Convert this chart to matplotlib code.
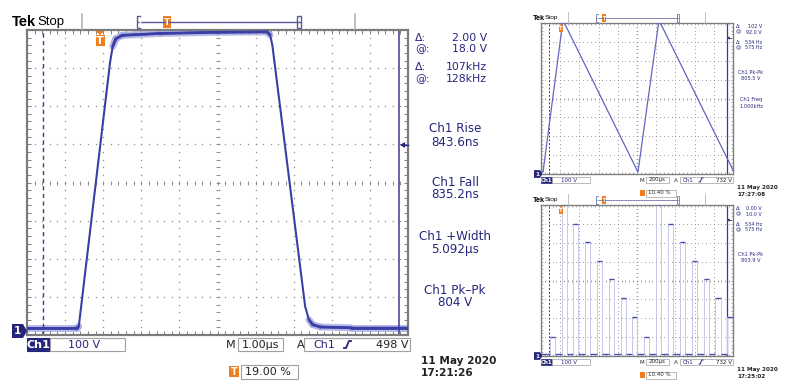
import numpy as np
import matplotlib
matplotlib.use("Agg")
import matplotlib.pyplot as plt
from matplotlib.patches import Rectangle, Polygon

W, H = 800, 387
NAVY = '#25257c'
TRACE = '#3a3ea6'
HALO = '#a6a9e0'
GRID = '#8e8e8e'
FRAME = '#7c7c7c'
ORANGE = '#f07d1e'
DARK = '#222222'
FONT = 'DejaVu Sans'

# main capture: Ch1, 1.00 us/div, 100 V/div
main_t = [0.0, 1.30, 1.36, 2.18, 2.25, 2.33, 2.50, 3.5, 5.0, 6.30, 6.38, 6.44, 7.30, 7.40, 7.50, 7.70, 8.5, 10.0]
main_v = [3, 3, 8, 700, 742, 762, 771, 776, 779, 780, 772, 745, 60, 25, 12, 6, 4, 4]
main_cursors = [0.42, 9.76]
main_readout = [("Δ:", "2.00 V"), ("@:", "18.0 V"), ("Δ:", "107kHz"), ("@:", "128kHz")]
main_meas = [("Ch1 Rise", "843.6ns"), ("Ch1 Fall", "835.2ns"),
             ("Ch1 +Width", "5.092µs"), ("Ch1 Pk–Pk", "804 V")]

# ramp capture: 200 us/div
saw_t = [0, 21, 229, 1010, 1229, 2010]
saw_v = [0, 0, 805, 0, 805, 0]
saw_readout = [("Δ:", "102 V"), ("@:", "92.0 V"), ("Δ:", "534 Hz"), ("@:", "575 Hz")]
saw_meas = [("Ch1 Pk-Pk", "805.5 V"), ("Ch1 Freq", "1.000kHz")]

# staircase pulse capture: 200 us/div
step_t = [95, 215, 335, 458, 580, 705, 830, 950, 1070, 1195, 1320, 1445, 1570, 1695, 1815, 1940]
step_v = [90, 795, 690, 595, 495, 400, 295, 195, 90, 795, 690, 595, 495, 400, 295, 195]
step_w = 55
step_readout = [("Δ:", "0.00 V"), ("@:", "10.0 V"), ("Δ:", "534 Hz"), ("@:", "575 Hz")]
step_meas = [("Ch1 Pk-Pk", "803.9 V")]
small_cursors = [83, 1937]


def rect(x0, y0, x1, y1):
    return [x0 / W, 1 - y1 / H, (x1 - x0) / W, (y1 - y0) / H]


def graticule(ax, s):
    x0, x1 = ax.get_xlim()
    y0, y1 = ax.get_ylim()
    ax.set_xticks(np.linspace(x0, x1, 51))
    ax.set_yticks(np.linspace(y0, y1, 41))
    ax.tick_params(direction='in', length=2.6 * s, width=0.7 * s, color=FRAME,
                   top=True, right=True, labelbottom=False, labelleft=False)
    ax.set_xlim(x0, x1)
    ax.set_ylim(y0, y1)
    for sp in ax.spines.values():
        sp.set_color(FRAME)
        sp.set_linewidth(1.6 * s)
    tr = ax.transAxes
    fx = np.linspace(0, 1, 51)
    fy = np.linspace(0, 1, 41)
    for i in range(1, 10):
        ax.plot(np.full(41, i / 10), fy, ls='none', marker='s', ms=0.9 * s, mew=0,
                color=GRID, transform=tr, zorder=1)
    for j in range(1, 8):
        ax.plot(fx, np.full(51, j / 8), ls='none', marker='s', ms=0.9 * s, mew=0,
                color=GRID, transform=tr, zorder=1)
    ax.plot(np.full(41, 0.5), fy, ls='none', marker='_', ms=3 * s, mew=0.7 * s,
            color=GRID, transform=tr, zorder=1)
    ax.plot(fx, np.full(51, 0.5), ls='none', marker='|', ms=3 * s, mew=0.7 * s,
            color=GRID, transform=tr, zorder=1)


fig = plt.figure(figsize=(8, 3.87), dpi=100)
fig.patch.set_facecolor('white')

ov = fig.add_axes([0, 0, 1, 1])
ov.set_xlim(0, W)
ov.set_ylim(H, 0)
ov.axis('off')
ov.set_zorder(5)


def txt(x, y, s, size, color=NAVY, ha='left', weight='normal', family=FONT):
    ov.text(x, y, s, fontsize=size, color=color, ha=ha, va='center',
            fontweight=weight, family=family)


def box(x0, y0, x1, y1, fc='white', ec='#a0a0a0', lw=0.8):
    ov.add_patch(Rectangle((x0, y0), x1 - x0, y1 - y0, fc=fc, ec=ec, lw=lw))


def ramp(x, y, h, lw, color=NAVY):
    ov.plot([x, x + h * 0.3, x + h * 0.7, x + h], [y + h / 2, y + h / 2, y - h / 2, y - h / 2],
            color=color, lw=lw)


def header(x_tek, x_stop, y, fs, seps, bar0, bar1, tpos, sy0, sy1, s):
    txt(x_tek, y, "Tek", fs, color='black', weight='bold', family='Liberation Sans')
    txt(x_stop, y, "Stop", fs * 0.9, color='black', family='Liberation Sans')
    for sx in seps:
        ov.plot([sx, sx], [sy0, sy1], color='#b4b4b4', lw=1.2 * s)
    h = (sy1 - sy0) * 0.38
    ov.plot([bar0 + 6 * s, bar1], [y, y], color='#5a5a9a', lw=1.0 * s)
    ov.plot([bar0, bar0 + 6 * s], [y, y], color='#5a5a9a', lw=1.0 * s, ls=(0, (1.5, 1.2)))
    ov.plot([bar0 + 3 * s, bar0, bar0, bar0 + 3 * s], [y - h, y - h, y + h, y + h],
            color='#5a5a9a', lw=1.0 * s)
    box(bar1 - 3 * s, y - h, bar1 + 1 * s, y + h, fc='white', ec='#5a5a9a', lw=1.0 * s)
    ov.add_patch(Rectangle((tpos - 4 * s, y - h * 1.05), 8 * s, 2.1 * h, fc=ORANGE, ec='none'))
    txt(tpos, y + 0.3 * s, "T", 6.5 * s, color='white', ha='center', weight='bold')


def trig_marker(x, ytop, s):
    ov.add_patch(Polygon([(x - 4.5 * s, ytop), (x + 4.5 * s, ytop), (x, ytop + 4 * s)],
                         fc=ORANGE, ec='none'))
    ov.add_patch(Rectangle((x - 4.5 * s, ytop + 4 * s), 9 * s, 11 * s, fc=ORANGE, ec='none'))
    txt(x, ytop + 9.8 * s, "T", 8 * s, color='white', ha='center', weight='bold')


def ground_marker(x0, y, s):
    ov.add_patch(Polygon([(x0, y - 7 * s), (x0 + 11 * s, y - 7 * s), (x0 + 15 * s, y),
                          (x0 + 11 * s, y + 7 * s), (x0, y + 7 * s)], fc=NAVY, ec='none'))
    txt(x0 + 5.5 * s, y + 0.3 * s, "1", 7.5 * s, color='white', ha='center', weight='bold')


def level_arrow(x, y, s):
    ov.add_patch(Polygon([(x, y), (x + 5 * s, y - 3 * s), (x + 5 * s, y + 3 * s)],
                         fc=NAVY, ec='none'))
    ov.plot([x + 4 * s, x + 8 * s], [y, y], color=NAVY, lw=1.0 * s)


def draw_trace(ax, t, v, lw_core, lw_halo):
    t = np.asarray(t, float)
    v = np.asarray(v, float)
    ax.plot(t, v, color=TRACE, lw=lw_core * 0.75, zorder=3)
    slope = np.abs(np.diff(v) / np.diff(t))
    for k in np.where(slope < 300)[0]:
        ax.plot(t[k:k + 2], v[k:k + 2], color=HALO, lw=lw_halo, alpha=0.8,
                solid_capstyle='round', zorder=2)
        ax.plot(t[k:k + 2], v[k:k + 2], color=TRACE, lw=lw_core, solid_capstyle='round', zorder=3)


# ---------------- main capture ----------------
ax = fig.add_axes(rect(27, 30, 408, 335))
ax.set_xlim(0, 10)
ax.set_ylim(-15, 785)
graticule(ax, 1.0)
draw_trace(ax, main_t, main_v, 2.0, 5.0)
ax.axvline(main_cursors[0], color='#3a3c8c', lw=1.0, ls=(0, (3, 2.5)), zorder=2)
ax.axvline(main_cursors[1], color='#3a3c8c', lw=1.1, zorder=2)

header(12, 37, 22, 10.5, [82, 355], 137, 300, 167, 14, 29, 1.0)
trig_marker(100, 31, 1.0)
ground_marker(12, 331, 1.0)
level_arrow(400, 145, 1.0)

for (lab, val), y in zip(main_readout, [38, 49.5, 67, 79]):
    txt(415, y, lab, 7.8)
    txt(487, y, val, 7.8, ha='right')
for (lab, val), (y1, y2) in zip(main_meas, [(129, 142), (183, 195), (237, 249), (291, 303)]):
    txt(455, y1, lab, 8.6, ha='center')
    txt(455, y2, val, 8.6, ha='center')

box(27, 338, 50, 351, fc=NAVY, ec=NAVY)
txt(38.5, 344.5, "Ch1", 8, color='white', ha='center', weight='bold')
box(50, 338, 125, 351)
txt(68, 344.5, "100 V", 8)
txt(231, 344.5, "M", 8, color=DARK, ha='center')
box(238, 338, 283, 351)
txt(260.5, 344.5, "1.00µs", 8, color=DARK, ha='center')
txt(301, 344.5, "A", 8, color=DARK, ha='center')
box(304, 338, 410, 351)
txt(313, 344.5, "Ch1", 8)
ramp(344, 344.5, 7, 1.3)
txt(408, 344.5, "498 V", 8, color=DARK, ha='right')

ov.add_patch(Rectangle((229, 366), 10, 11, fc=ORANGE, ec='none'))
txt(234, 371.8, "T", 7, color='white', ha='center', weight='bold')
box(241, 365, 298, 379)
txt(245, 372, "19.00 %", 8, color=DARK)
txt(421, 361, "11 May 2020", 7.6, color=DARK, weight='bold')
txt(421, 373, "17:21:26", 7.6, color=DARK, weight='bold')


# ---------------- small captures ----------------
def small_scope(dy, readout, meas, meas_ys, date, clock):
    a = fig.add_axes(rect(541, 23 + dy, 733, 174 + dy))
    a.set_xlim(0, 2000)
    a.set_ylim(-10, 790)
    graticule(a, 0.6)
    a.axvline(small_cursors[0], color='#3a3c8c', lw=0.7, ls=(0, (2, 1.8)), zorder=2)
    a.axvline(small_cursors[1], color='#3a3c8c', lw=0.9, zorder=2)

    header(533, 545, 18 + dy, 5.2, [568, 705], 596, 678, 604, 12 + dy, 23 + dy, 0.5)
    trig_marker(561, 24 + dy, 0.5)
    ground_marker(534, 174 + dy, 0.55)
    level_arrow(727, 38 + dy, 0.55)

    for (lab, val), y in zip(readout, [26, 32, 42, 47.5]):
        txt(736, y + dy, lab, 3.5)
        txt(762, y + dy, val, 3.5, ha='right')
    for (lab, val), (y1, y2) in zip(meas, meas_ys):
        txt(751, y1 + dy, lab, 3.6, ha='center')
        txt(751, y2 + dy, val, 3.6, ha='center')

    ys = 180 + dy
    box(541, ys - 3.2, 552, ys + 3.2, fc=NAVY, ec=NAVY, lw=0.5)
    txt(546.5, ys, "Ch1", 4, color='white', ha='center', weight='bold')
    box(552, ys - 3.2, 590, ys + 3.2, lw=0.5)
    txt(561, ys, "100 V", 4)
    txt(642, ys, "M", 4, color=DARK, ha='center')
    box(646, ys - 3.2, 669, ys + 3.2, lw=0.5)
    txt(657.5, ys, "200µs", 4, color=DARK, ha='center')
    txt(676, ys, "A", 4, color=DARK, ha='center')
    box(680, ys - 3.2, 733, ys + 3.2, lw=0.5)
    txt(683, ys, "Ch1", 4)
    ramp(699, ys, 4, 0.7)
    txt(732, ys, "732 V", 4, color=DARK, ha='right')

    yt = 193 + dy
    ov.add_patch(Rectangle((640, yt - 3), 5, 6, fc=ORANGE, ec='none'))
    box(646, yt - 3.5, 676, yt + 3.5, lw=0.5)
    txt(648, yt, "10.40 %", 4, color=DARK)
    txt(737, 188 + dy, date, 4.1, color=DARK, weight='bold')
    txt(737, 195 + dy, clock, 4.1, color=DARK, weight='bold')
    return a


a1 = small_scope(0, saw_readout, saw_meas, [(72, 78), (99, 106)], "11 May 2020", "17:27:08")
a1.plot(saw_t, saw_v, color='#6266c0', lw=0.9, zorder=3)

a2 = small_scope(182, step_readout, step_meas, [(72, 79)], "11 May 2020", "17:25:02")
px, py = [], []
for t0, v in zip(step_t, step_v):
    px += [t0, t0, t0 + step_w, t0 + step_w]
    py += [0, v, v, 0]
a2.plot(px, py, color='#c6c8ee', lw=0.7, zorder=2)
a2.hlines(step_v, step_t, np.array(step_t) + step_w, color='#4b4fae', lw=1.0, zorder=3)
gap0 = [0] + [t + step_w for t in step_t]
gap1 = step_t + [2000]
a2.hlines(np.zeros(len(gap0)), gap0, gap1, color='#4b4fae', lw=1.0, zorder=3)

fig.savefig("out.png", dpi=100)
